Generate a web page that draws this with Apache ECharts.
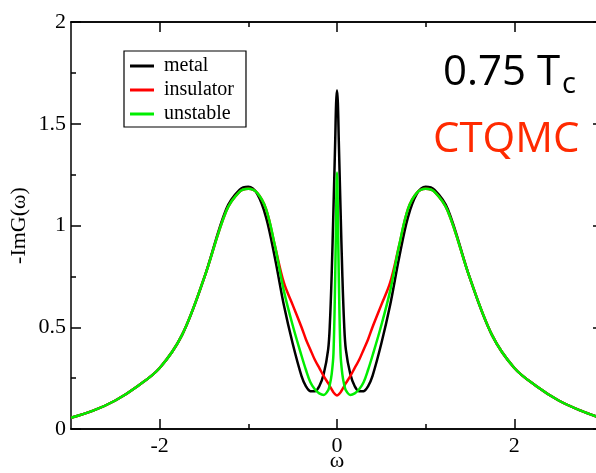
<!DOCTYPE html>
<html>
<head>
<meta charset="utf-8">
<script src="https://cdn.jsdelivr.net/npm/echarts@6/dist/echarts.min.js"></script>
<style>
  html, body { margin: 0; padding: 0; background: #fff; }
  #chart { width: 596px; height: 473px; }
</style>
</head>
<body>
<div id="chart"></div>
<script>
// Frequency grid (omega) shared by the three spectral functions
const omega = [-3, -2.75, -2.5, -2.25, -2, -1.75, -1.5, -1.25, -1.1, -1, -0.9, -0.8, -0.7, -0.6,
  -0.5, -0.4, -0.35, -0.3, -0.25, -0.2, -0.15, -0.1, -0.08, -0.06, -0.04, -0.02, -0.01, 0,
  0.01, 0.02, 0.04, 0.06, 0.08, 0.1, 0.15, 0.2, 0.25, 0.3, 0.35, 0.4, 0.5,
  0.6, 0.7, 0.8, 0.9, 1, 1.1, 1.25, 1.5, 1.75, 2, 2.25, 2.5, 2.75, 3];

// -ImG(omega) for each solution
const metal = [0.055, 0.09, 0.14, 0.21, 0.30, 0.46, 0.74, 1.08, 1.175, 1.19, 1.155, 1.04, 0.84, 0.61,
  0.42, 0.26, 0.21, 0.186, 0.185, 0.21, 0.27, 0.39, 0.52, 0.76, 1.08, 1.42, 1.60, 1.665,
  1.60, 1.42, 1.08, 0.76, 0.52, 0.39, 0.27, 0.21, 0.185, 0.186, 0.21, 0.26, 0.42,
  0.61, 0.84, 1.04, 1.155, 1.19, 1.175, 1.08, 0.74, 0.46, 0.30, 0.21, 0.14, 0.09, 0.05];

const insulator = [0.055, 0.09, 0.14, 0.21, 0.30, 0.46, 0.74, 1.07, 1.165, 1.18, 1.16, 1.08, 0.90, 0.72,
  0.61, 0.50, 0.44, 0.39, 0.34, 0.30, 0.26, 0.225, 0.21, 0.195, 0.18, 0.17, 0.167, 0.165,
  0.167, 0.17, 0.18, 0.195, 0.21, 0.225, 0.26, 0.30, 0.34, 0.39, 0.44, 0.50, 0.61,
  0.72, 0.90, 1.08, 1.16, 1.18, 1.165, 1.07, 0.74, 0.46, 0.30, 0.21, 0.14, 0.09, 0.05];

const unstable = [0.055, 0.09, 0.14, 0.21, 0.30, 0.46, 0.74, 1.07, 1.165, 1.18, 1.16, 1.08, 0.90, 0.68,
  0.51, 0.36, 0.29, 0.23, 0.195, 0.175, 0.167, 0.19, 0.22, 0.27, 0.37, 0.75, 1.05, 1.26,
  1.05, 0.75, 0.37, 0.27, 0.22, 0.19, 0.167, 0.175, 0.195, 0.23, 0.29, 0.36, 0.51,
  0.68, 0.90, 1.08, 1.16, 1.18, 1.165, 1.07, 0.74, 0.46, 0.30, 0.21, 0.14, 0.09, 0.05];

const xMajorTicks = [-2, 0, 2];
const xMinorTicks = [-1, 1];
const seriesNames = ['metal', 'insulator', 'unstable'];
const seriesColors = ['#000000', '#ff0000', '#00ee00'];

const SERIF = 'Liberation Serif';
const AXIS_COLOR = '#000';

function pairs(ys) { return omega.map((x, i) => [x, ys[i]]); }

function xAxisDef(position, ticks, length, withLabels) {
  return {
    type: 'value', min: -3, max: 3, position: position,
    axisLine: { show: true, onZero: false, lineStyle: { color: AXIS_COLOR, width: 1.5 } },
    axisTick: { show: true, inside: true, length: length, customValues: ticks,
      lineStyle: { color: AXIS_COLOR, width: 1.5 } },
    axisLabel: withLabels
      ? { show: true, customValues: ticks, margin: 6, color: '#000', fontFamily: SERIF, fontSize: 22 }
      : { show: false },
    splitLine: { show: false }
  };
}

function yAxisDef(position, withLabels) {
  return {
    type: 'value', min: 0, max: 2, interval: 0.5, position: position,
    axisLine: { show: true, onZero: false, lineStyle: { color: AXIS_COLOR, width: 1.5 } },
    axisTick: { show: true, inside: true, length: 10, lineStyle: { color: AXIS_COLOR, width: 1.5 } },
    minorTick: { show: true, splitNumber: 2, length: 5, lineStyle: { color: AXIS_COLOR, width: 1.5 } },
    axisLabel: withLabels
      ? { show: true, margin: 5, color: '#000', fontFamily: SERIF, fontSize: 22 }
      : { show: false },
    splitLine: { show: false },
    minorSplitLine: { show: false }
  };
}

const chart = echarts.init(document.getElementById('chart'), null, { renderer: 'canvas' });

const xBottom = xAxisDef('bottom', xMajorTicks, 10, true);
xBottom.name = 'ω';
xBottom.nameLocation = 'middle';
xBottom.nameGap = 21;
xBottom.nameMoveOverlap = false;
xBottom.nameTextStyle = { color: '#000', fontFamily: SERIF, fontSize: 22 };

const yLeft = yAxisDef('left', true);
yLeft.name = '-ImG(ω)';
yLeft.nameLocation = 'middle';
yLeft.nameGap = 41;
yLeft.nameMoveOverlap = false;
yLeft.nameTextStyle = { color: '#000', fontFamily: SERIF, fontSize: 22 };

chart.setOption({
  backgroundColor: '#fff',
  animation: false,
  // the frame runs a few pixels past the right edge of the canvas
  grid: { left: 71, top: 22, width: 532, height: 407, containLabel: false, outerBoundsMode: 'none' },
  xAxis: [
    xBottom,
    xAxisDef('bottom', xMinorTicks, 5, false),
    xAxisDef('top', xMajorTicks, 10, false),
    xAxisDef('top', xMinorTicks, 5, false)
  ],
  yAxis: [yLeft, yAxisDef('right', false)],
  legend: {
    data: seriesNames,
    orient: 'vertical',
    left: 124, top: 51,
    icon: 'rect',
    itemWidth: 24, itemHeight: 3,
    itemGap: 4,
    padding: [5, 12, 3, 6],
    borderColor: '#000', borderWidth: 1.2,
    backgroundColor: '#fff',
    textStyle: { color: '#000', fontFamily: SERIF, fontSize: 20, lineHeight: 18, padding: [0, 0, 0, 5] }
  },
  series: seriesNames.map((name, i) => ({
    name: name,
    type: 'line',
    xAxisIndex: 0, yAxisIndex: 0,
    data: pairs([metal, insulator, unstable][i]),
    showSymbol: false,
    smooth: 0.35,
    lineStyle: { color: seriesColors[i], width: 2.5 },
    itemStyle: { color: seriesColors[i] },
    z: 2 + i
  })),
  graphic: [
    { type: 'text', style: { x: 443, y: 73, text: '0.75 T', fill: '#000',
        font: '42px "Open Sans"', align: 'left', verticalAlign: 'middle' } },
    { type: 'text', style: { x: 562, y: 85, text: 'c', fill: '#000',
        font: '29px "Open Sans"', align: 'left', verticalAlign: 'middle' } },
    { type: 'text', style: { x: 433, y: 140, text: 'CTQMC', fill: '#ff2a00',
        font: '42px "Open Sans"', align: 'left', verticalAlign: 'middle' } }
  ]
});
</script>
</body>
</html>
